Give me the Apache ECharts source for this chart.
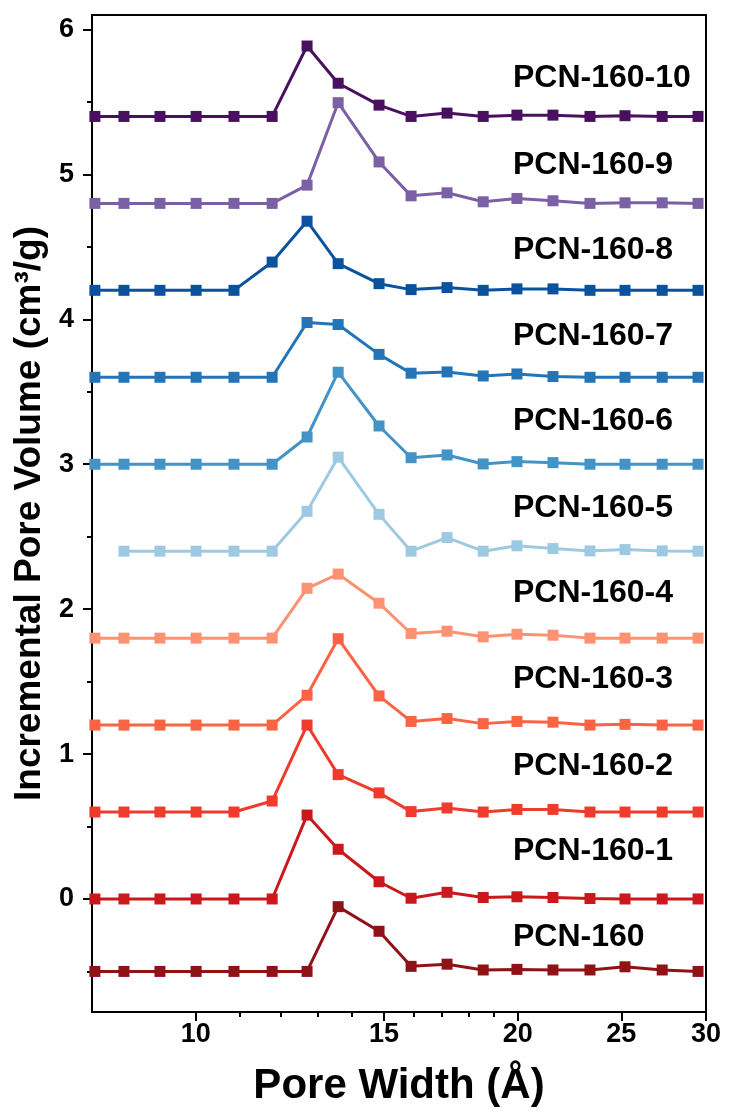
<!DOCTYPE html>
<html><head><meta charset="utf-8">
<script src="https://cdn.jsdelivr.net/npm/echarts@6/dist/echarts.min.js"></script>
<style>html,body{margin:0;padding:0;background:#fff}#c{width:729px;height:1118px}</style>
</head><body><div id="c"></div>
<script>
// Pore width (Å) of each measured point
const poreWidth = [8.05, 8.57, 9.26, 10.01, 10.86, 11.79, 12.71, 13.59, 14.84, 15.90, 17.18, 18.57, 19.97, 21.58, 23.37, 25.20, 27.30, 29.49];

const seriesNames = ['PCN-160', 'PCN-160-1', 'PCN-160-2', 'PCN-160-3', 'PCN-160-4', 'PCN-160-5', 'PCN-160-6', 'PCN-160-7', 'PCN-160-8', 'PCN-160-9', 'PCN-160-10'];

// Incremental pore volume (offset traces)
const pcn160   = [-0.5, -0.5, -0.5, -0.5, -0.5, -0.5, -0.5, -0.053, -0.223, -0.465, -0.45, -0.49, -0.486, -0.49, -0.49, -0.468, -0.49, -0.5];
const pcn160_1 = [0, 0, 0, 0, 0, 0, 0.579, 0.343, 0.119, 0.005, 0.046, 0.01, 0.015, 0.01, 0.003, 0, 0, 0];
const pcn160_2 = [0.6, 0.6, 0.6, 0.6, 0.6, 0.676, 1.2, 0.858, 0.732, 0.603, 0.628, 0.6, 0.618, 0.618, 0.6, 0.6, 0.6, 0.6];
const pcn160_3 = [1.2, 1.2, 1.2, 1.2, 1.2, 1.2, 1.406, 1.796, 1.401, 1.225, 1.245, 1.21, 1.225, 1.22, 1.2, 1.205, 1.2, 1.2];
const pcn160_4 = [1.8, 1.8, 1.8, 1.8, 1.8, 1.8, 2.144, 2.242, 2.041, 1.832, 1.848, 1.809, 1.827, 1.82, 1.8, 1.8, 1.8, 1.8];
const pcn160_5 = [null, 2.4, 2.4, 2.4, 2.4, 2.4, 2.675, 3.049, 2.654, 2.4, 2.494, 2.4, 2.437, 2.418, 2.402, 2.411, 2.402, 2.4];
const pcn160_6 = [3.0, 3.0, 3.0, 3.0, 3.0, 3.0, 3.188, 3.635, 3.264, 3.045, 3.064, 3.002, 3.018, 3.011, 3.0, 3.0, 3.0, 3.0];
const pcn160_7 = [3.6, 3.6, 3.6, 3.6, 3.6, 3.6, 3.978, 3.964, 3.758, 3.628, 3.637, 3.609, 3.623, 3.605, 3.6, 3.6, 3.6, 3.6];
const pcn160_8 = [4.2, 4.2, 4.2, 4.2, 4.2, 4.395, 4.677, 4.384, 4.246, 4.205, 4.219, 4.2, 4.21, 4.21, 4.2, 4.2, 4.2, 4.2];
const pcn160_9 = [4.8, 4.8, 4.8, 4.8, 4.8, 4.8, 4.926, 5.495, 5.086, 4.852, 4.873, 4.811, 4.834, 4.818, 4.8, 4.804, 4.804, 4.8];
const pcn160_10 = [5.4, 5.4, 5.4, 5.4, 5.4, 5.4, 5.886, 5.629, 5.478, 5.4, 5.423, 5.4, 5.409, 5.409, 5.4, 5.405, 5.4, 5.4];

const seriesValues = [pcn160, pcn160_1, pcn160_2, pcn160_3, pcn160_4, pcn160_5, pcn160_6, pcn160_7, pcn160_8, pcn160_9, pcn160_10];

// Tick labels
const xTickLabels = [10, 15, 20, 25, 30];
const xMinorTicks = [11, 12, 13, 14, 16, 17, 18, 19];
const yTickLabels = [0, 1, 2, 3, 4, 5, 6];
const yMinorTicks = [-0.5, 0.5, 1.5, 2.5, 3.5, 4.5, 5.5];

// Trace label anchor (data coords)
const labelX = 19.8;
const labelY = [-0.265, 0.331, 0.917, 1.52, 2.11, 2.698, 3.294, 3.881, 4.475, 5.067, 5.664];

const colors = ['#8E1216', '#CB181D', '#EE3B2C', '#FA6444', '#FC9272', '#9DCAE2', '#4393C7', '#2474B8', '#0A529E', '#7B60A6', '#4A1060'];

const FONT = '"Liberation Sans", Arial, Helvetica, sans-serif';

const series = seriesNames.map((name, i) => ({
  name: name,
  type: 'line',
  xAxisIndex: 0,
  yAxisIndex: 0,
  data: poreWidth.map((x, j) => [x, seriesValues[i][j]]),
  symbol: 'rect',
  symbolSize: 11,
  lineStyle: { width: 3, color: colors[i] },
  itemStyle: { color: colors[i], opacity: 1 },
  connectNulls: false,
  z: 2 + i
}));

series.push({
  type: 'scatter',
  xAxisIndex: 0,
  yAxisIndex: 0,
  symbolSize: 0,
  silent: true,
  itemStyle: { opacity: 1 },
  data: seriesNames.map((n, i) => ({ name: n, value: [labelX, labelY[i]] })),
  label: {
    show: true,
    position: 'right',
    distance: 0,
    formatter: '{b}',
    fontFamily: FONT,
    fontWeight: 'bold',
    fontSize: 32,
    color: '#000',
    opacity: 1,
    align: 'left',
    verticalAlign: 'middle'
  },
  z: 20
});

const chart = echarts.init(document.getElementById('c'), null, { renderer: 'canvas' });
chart.setOption({
  animation: false,
  backgroundColor: '#fff',
  grid: { left: 92, right: 23, top: 15, bottom: 106, show: true, borderColor: '#000', borderWidth: 2, backgroundColor: 'transparent' },
  xAxis: [
    {
      type: 'log', logBase: 10, min: 8, max: 30, position: 'bottom',
      name: 'Pore Width (Å)', nameLocation: 'middle', nameGap: 53,
      nameTextStyle: { fontFamily: FONT, fontWeight: 'bold', fontSize: 42, color: '#000' },
      axisLine: { show: true, onZero: false, lineStyle: { color: '#000', width: 2 } },
      axisTick: { show: true, inside: false, length: 9, lineStyle: { color: '#000', width: 2 }, customValues: xTickLabels },
      axisLabel: { show: true, customValues: xTickLabels, margin: 9, fontFamily: FONT, fontWeight: 'bold', fontSize: 27, color: '#000',
        formatter: v => String(Math.round(v)) },
      splitLine: { show: false }, minorTick: { show: false }, minorSplitLine: { show: false }
    },
    {
      type: 'log', logBase: 10, min: 8, max: 30, position: 'bottom',
      axisLine: { show: false, onZero: false },
      axisTick: { show: true, inside: false, length: 5, lineStyle: { color: '#000', width: 2 }, customValues: xMinorTicks },
      axisLabel: { show: false },
      splitLine: { show: false }
    }
  ],
  yAxis: [
    {
      type: 'value', min: -0.78, max: 6.1, position: 'left',
      name: 'Incremental Pore Volume (cm³/g)', nameLocation: 'middle', nameGap: 40, nameRotate: 90,
      nameTextStyle: { fontFamily: FONT, fontWeight: 'bold', fontSize: 37, color: '#000' },
      axisLine: { show: true, onZero: false, lineStyle: { color: '#000', width: 2 } },
      axisTick: { show: true, inside: false, length: 9, lineStyle: { color: '#000', width: 2 }, customValues: yTickLabels },
      axisLabel: { show: true, customValues: yTickLabels, margin: 18, fontFamily: FONT, fontWeight: 'bold', fontSize: 27, color: '#000',
        formatter: v => String(Math.round(v)) },
      splitLine: { show: false }
    },
    {
      type: 'value', min: -0.78, max: 6.1, position: 'left',
      axisLine: { show: false, onZero: false },
      axisTick: { show: true, inside: false, length: 5, lineStyle: { color: '#000', width: 2 }, customValues: yMinorTicks },
      axisLabel: { show: false },
      splitLine: { show: false }
    }
  ],
  series: series
});
</script>
</body></html>
